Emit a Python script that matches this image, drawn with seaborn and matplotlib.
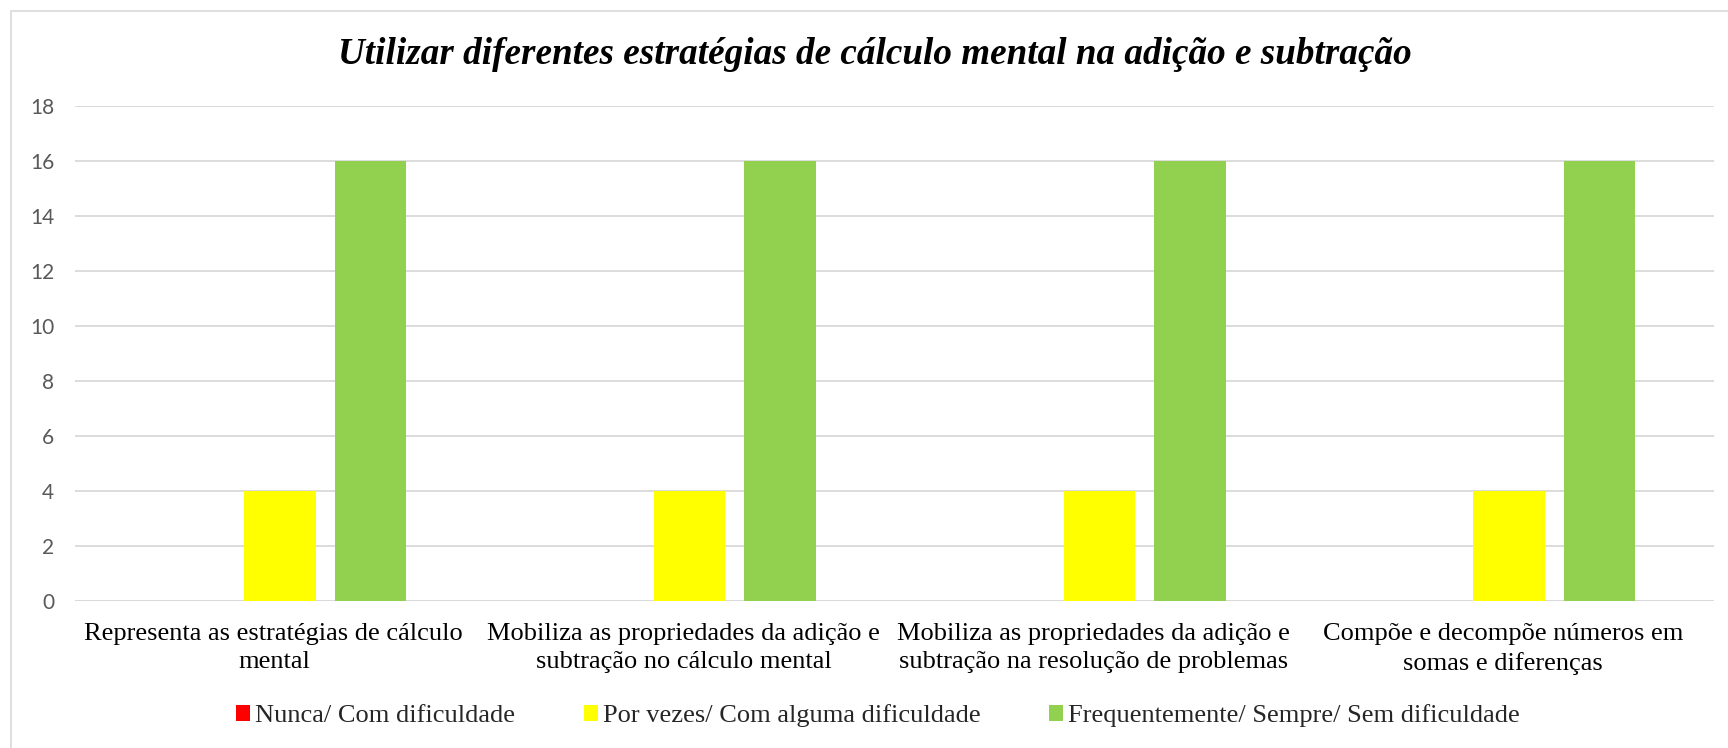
import matplotlib
matplotlib.use("Agg")
import matplotlib.pyplot as plt
import matplotlib.transforms as mtransforms
import seaborn as sns
import pandas as pd
from matplotlib.patches import Rectangle, Patch

categories = [
    "Representa as estratégias de cálculo\nmental",
    "Mobiliza as propriedades da adição e\nsubtração no cálculo mental",
    "Mobiliza as propriedades da adição e\nsubtração na resolução de problemas",
    "Compõe e decompõe números em\nsomas e diferenças",
]
series_names = [
    "Nunca/ Com dificuldade",
    "Por vezes/ Com alguma dificuldade",
    "Frequentemente/ Sempre/ Sem dificuldade",
]
nunca = [0, 0, 0, 0]
por_vezes = [4, 4, 4, 4]
frequentemente = [16, 16, 16, 16]
colors = ["#FF0000", "#FFFF00", "#92D050"]
yticks = [0, 2, 4, 6, 8, 10, 12, 14, 16, 18]
title = "Utilizar diferentes estratégias de cálculo mental na adição e subtração"

rows = []
for name, vals in zip(series_names, [nunca, por_vezes, frequentemente]):
    for c, v in zip(categories, vals):
        rows.append({"cat": c, "serie": name, "valor": v})
df = pd.DataFrame(rows)

sns.set_theme(style="white")
plt.rcParams["font.family"] = ["Liberation Serif", "DejaVu Serif"]

W, H = 1728, 748
fig = plt.figure(figsize=(W / 100, H / 100), dpi=100)
fig.patch.set_facecolor("white")

# chart border (cropped at right/bottom in reference)
fig.add_artist(Rectangle((10.5 / W, -0.1), 1.2, 1 - 10.5 / H + 0.1,
                         transform=fig.transFigure, fill=False,
                         edgecolor="#D9D9D9", linewidth=1.2))

left, right = 75 / W, 1714 / W
bottom, top = 1 - 601 / H, 1 - 106 / H
ax = fig.add_axes([left, bottom, right - left, top - bottom])

sns.barplot(data=df, x="cat", y="valor", hue="serie", order=categories,
            hue_order=series_names, palette=colors, width=0.662, gap=0.21,
            saturation=1, ax=ax, legend=False, edgecolor="none", linewidth=0)

ax.set_ylim(0, 18)
ax.set_xlim(-0.5, 3.5)
ax.set_yticks(yticks)
ax.set_yticklabels([str(t) for t in yticks], family="Lato", fontsize=15,
                   color="#595959")
ax.yaxis.grid(True, color="#D9D9D9", linewidth=1.3)
ax.set_axisbelow(True)
ax.tick_params(axis="y", length=0, pad=15)
ax.tick_params(axis="x", length=0, pad=15.5)
shift = mtransforms.ScaledTranslation(-6 / 100, 0, fig.dpi_scale_trans)
for lab in ax.get_xticklabels():
    lab.set_fontsize(19)
    lab.set_color("black")
    lab.set_linespacing(1.4)
    lab.set_transform(lab.get_transform() + shift)
ax.set_xlabel("")
ax.set_ylabel("")
for s in ax.spines.values():
    s.set_visible(False)
ax.axhline(0, color="#D9D9D9", linewidth=1.3, zorder=0.5)

fig.text(875 / W, 1 - 55 / H, title, ha="center", va="center",
         fontsize=26.7, fontweight="bold", fontstyle="italic", color="black")

handles = [Patch(facecolor=c, edgecolor="none") for c in colors]
fig.legend(handles, series_names, loc="center", ncol=3,
           bbox_to_anchor=(878 / W, 1 - 716 / H), frameon=False,
           fontsize=19, handlelength=0.53, handleheight=0.53,
           handletextpad=0.19, columnspacing=2.6)

fig.savefig("out.png", dpi=100, facecolor="white")
